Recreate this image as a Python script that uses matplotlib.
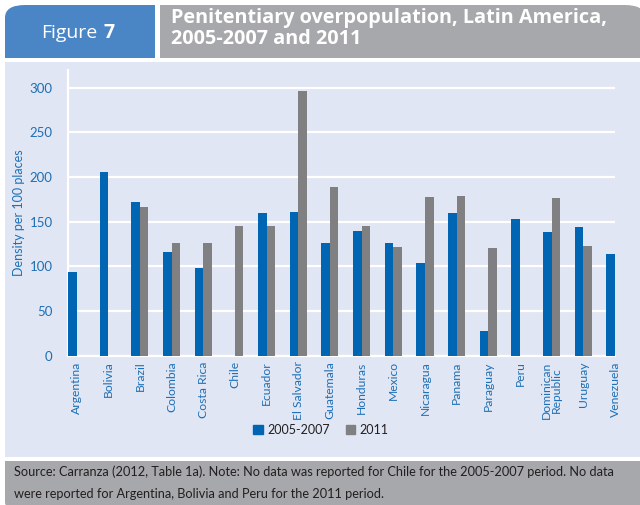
import matplotlib
matplotlib.use("Agg")
import matplotlib.pyplot as plt
import numpy as np
from matplotlib.patches import FancyBboxPatch, Rectangle

countries = ["Argentina", "Bolivia", "Brazil", "Colombia", "Costa Rica", "Chile",
             "Ecuador", "El Salvador", "Guatemala", "Honduras", "Mexico", "Nicaragua",
             "Panama", "Paraguay", "Peru", "Dominican\nRepublic", "Uruguay", "Venezuela"]
v2005 = [94, 206, 172.5, 116, 98.5, np.nan, 160, 161, 126.5, 140, 126.5, 104,
         160, 28, 153.5, 138, 144.5, 114]
v2011 = [np.nan, np.nan, 167, 126.5, 126.5, 145.5, 145.5, 296, 189, 145.5, 122, 178,
         179, 121, np.nan, 177, 123, np.nan]
yticks = [0, 50, 100, 150, 200, 250, 300]
series_names = ["2005-2007", "2011"]

BLUE = "#0066B3"
GRAY = "#808083"
PANEL = "#E0E6F3"
HDR_BLUE = "#4A86C6"
HDR_GRAY = "#A6A8AB"
TXT_BLUE = "#1E6FB5"
narrow = ["Lato", "DejaVu Sans"]

W, H = 640, 505
fig = plt.figure(figsize=(6.4, 5.05), dpi=100)
fig.patch.set_facecolor("white")

def px_box(x0, y0, x1, y1, color, r=0):
    # y measured from top in pixels
    if r > 0:
        p = FancyBboxPatch((x0 / W, 1 - y1 / H), (x1 - x0) / W, (y1 - y0) / H,
                           boxstyle="round,pad=0,rounding_size=%f" % (r / H),
                           transform=fig.transFigure, facecolor=color, edgecolor="none",
                           mutation_aspect=H / W, zorder=-10)
    else:
        p = Rectangle((x0 / W, 1 - y1 / H), (x1 - x0) / W, (y1 - y0) / H,
                      transform=fig.transFigure, facecolor=color, edgecolor="none",
                      zorder=-10)
    fig.patches.append(p)

# header
px_box(5, 5, 155, 58, HDR_BLUE, r=16)
px_box(5, 30, 155, 58, HDR_BLUE)
px_box(90, 5, 155, 58, HDR_BLUE)
px_box(160, 5, 645, 58, HDR_GRAY, r=16)
px_box(160, 30, 645, 58, HDR_GRAY)
px_box(160, 5, 500, 58, HDR_GRAY)
# panel
px_box(5, 62, 645, 457, PANEL)
# footer
px_box(5, 461, 645, 510, HDR_GRAY, r=10)
px_box(5, 461, 645, 480, HDR_GRAY)
px_box(300, 461, 645, 510, HDR_GRAY)

fig.text(41 / W, 1 - 33 / H, "Figure", color="white", fontsize=14, va="center", ha="left",
         family="Open Sans")
fig.text(104 / W, 1 - 33 / H, "7", color="white", fontsize=14, va="center", ha="left",
         family="Open Sans", fontweight="bold")
fig.text(171 / W, 1 - 8 / H, "Penitentiary overpopulation, Latin America,\n2005-2007 and 2011",
         color="white", fontsize=14.3, fontweight="bold", family="Open Sans",
         va="top", ha="left", linespacing=1.05)
fig.text(14 / W, 1 - 472 / H, "Source: Carranza (2012, Table 1a). Note: No data was reported for Chile for the 2005-2007 period. No data",
         color="#231F20", fontsize=9.2, family=narrow, va="center", ha="left")
fig.text(14 / W, 1 - 494 / H, "were reported for Argentina, Bolivia and Peru for the 2011 period.",
         color="#231F20", fontsize=9.2, family=narrow, va="center", ha="left")

# axes
ax = fig.add_axes([68 / W, 1 - 355.7 / H, (615 - 68) / W, (355.7 - 70) / H])
ax.set_facecolor(PANEL)
x = np.arange(len(countries))
w = 0.27
ax.bar(x - w / 2, v2005, width=w, color=BLUE, zorder=3, label=series_names[0])
ax.bar(x + w / 2, v2011, width=w, color=GRAY, zorder=3, label=series_names[1])
ax.set_xlim(-w, len(countries) - 1)
ax.set_ylim(0, 320)
ax.set_yticks(yticks)
ax.set_yticklabels([str(t) for t in yticks], color=TXT_BLUE, fontsize=9.5, family=narrow)
ax.set_xticks(x)
ax.set_xticklabels(countries, rotation=90, color=TXT_BLUE, fontsize=8.7, family=narrow,
                   linespacing=0.85)
ax.tick_params(axis="x", length=0, pad=4)
ax.tick_params(axis="y", length=0, pad=11)
ax.grid(axis="y", color="white", linewidth=1.6, zorder=1)
for s in ["top", "right"]:
    ax.spines[s].set_visible(False)
ax.spines["left"].set_color("white")
ax.spines["left"].set_linewidth(1.6)
ax.spines["bottom"].set_color("white")
ax.spines["bottom"].set_linewidth(1.6)
ax.set_ylabel("Density per 100 places", color=TXT_BLUE, fontsize=9, family=narrow, labelpad=3)

handles = [Rectangle((0, 0), 1, 1, color=BLUE), Rectangle((0, 0), 1, 1, color=GRAY)]
leg = fig.legend(handles, series_names, loc="center", bbox_to_anchor=(321 / W, 1 - 430 / H),
                 ncol=2, frameon=False, prop={"family": narrow, "size": 9},
                 handlelength=0.75, handleheight=0.75, columnspacing=1.3, handletextpad=0.35)
for t in leg.get_texts():
    t.set_color("#231F20")

fig.savefig("out.png", dpi=100, facecolor="white")
